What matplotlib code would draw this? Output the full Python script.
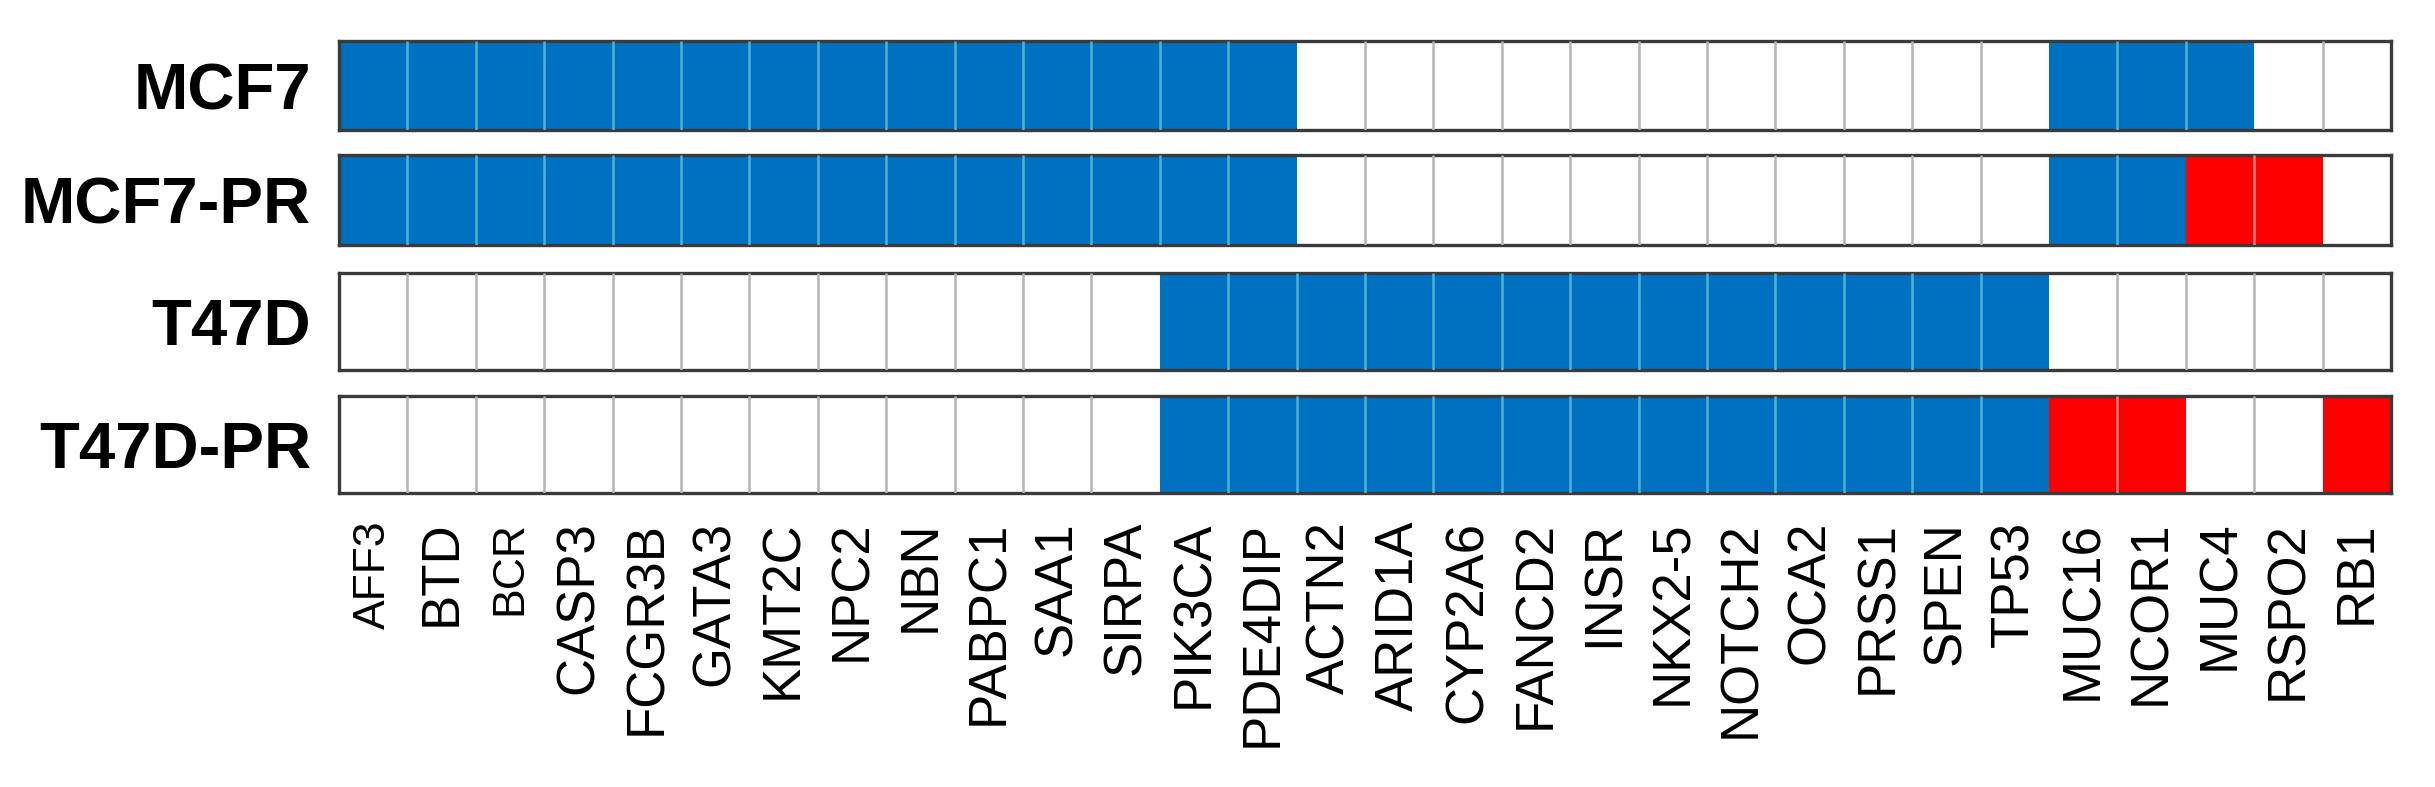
import numpy as np
import matplotlib
matplotlib.use("Agg")
import matplotlib.pyplot as plt
from matplotlib.colors import ListedColormap

plt.rcParams['font.family'] = ['Liberation Sans', 'DejaVu Sans']

# genes along the x axis
genes = ['AFF3', 'BTD', 'BCR', 'CASP3', 'FCGR3B', 'GATA3', 'KMT2C', 'NPC2',
         'NBN', 'PABPC1', 'SAA1', 'SIRPA', 'PIK3CA', 'PDE4DIP', 'ACTN2',
         'ARID1A', 'CYP2A6', 'FANCD2', 'INSR', 'NKX2-5', 'NOTCH2', 'OCA2',
         'PRSS1', 'SPEN', 'TP53', 'MUC16', 'NCOR1', 'MUC4', 'RSPO2', 'RB1']

cell_lines = ['MCF7', 'MCF7-PR', 'T47D', 'T47D-PR']

# 0 = no mutation, 1 = shared (blue), 2 = acquired (red)
mcf7 = [1] * 14 + [0] * 11 + [1, 1, 1, 0, 0]
mcf7_pr = [1] * 14 + [0] * 11 + [1, 1, 2, 2, 0]
t47d = [0] * 12 + [1] * 13 + [0, 0, 0, 0, 0]
t47d_pr = [0] * 12 + [1] * 13 + [2, 2, 0, 0, 2]

rows = [mcf7, mcf7_pr, t47d, t47d_pr]

fill_colors = ['white', '#0070C0', '#FF0000']
divider_colors = {0: '#B5B5B5', 1: '#4FB3CF', 2: '#F08080'}

fig = plt.figure(figsize=(24.35, 7.87), dpi=100)

# strip positions in pixels (top, bottom)
W, H = 2435, 787
x0, x1 = 339, 2391
strips = [(41, 130), (155, 245), (273, 370), (396, 493)]

cmap = ListedColormap(fill_colors)
axes = []
for name, vals, (top, bot) in zip(cell_lines, rows, strips):
    ax = fig.add_axes([x0 / W, 1 - bot / H, (x1 - x0) / W, (bot - top) / H])
    data = np.array(vals)[None, :]
    ax.pcolormesh(np.arange(len(genes) + 1), [0, 1], data, cmap=cmap,
                  vmin=-0.5, vmax=2.5)
    # thin dividers between equal neighbouring cells
    for i in range(1, len(vals)):
        if vals[i] == vals[i - 1]:
            ax.vlines(i, 0, 1, color=divider_colors[vals[i]], lw=1.8, zorder=3)
    ax.set_xlim(0, len(genes))
    ax.set_ylim(0, 1)
    for s in ax.spines.values():
        s.set_color('#3A3A3A')
        s.set_linewidth(2.4)
    ax.set_yticks([0.5], [name], fontsize=47, fontweight='bold')
    ax.tick_params(axis='y', length=0, pad=20)
    ax.set_xticks([])
    axes.append(ax)

# gene labels under the last strip
ax = axes[-1]
ax.set_xticks(np.arange(len(genes)) + 0.5, genes, rotation=90, fontsize=38)
ax.tick_params(axis='x', length=0, pad=20)
for lab in ax.get_xticklabels():
    if lab.get_text() in ('AFF3', 'BCR'):
        lab.set_fontsize(32)

fig.savefig('out.png', dpi=100)
